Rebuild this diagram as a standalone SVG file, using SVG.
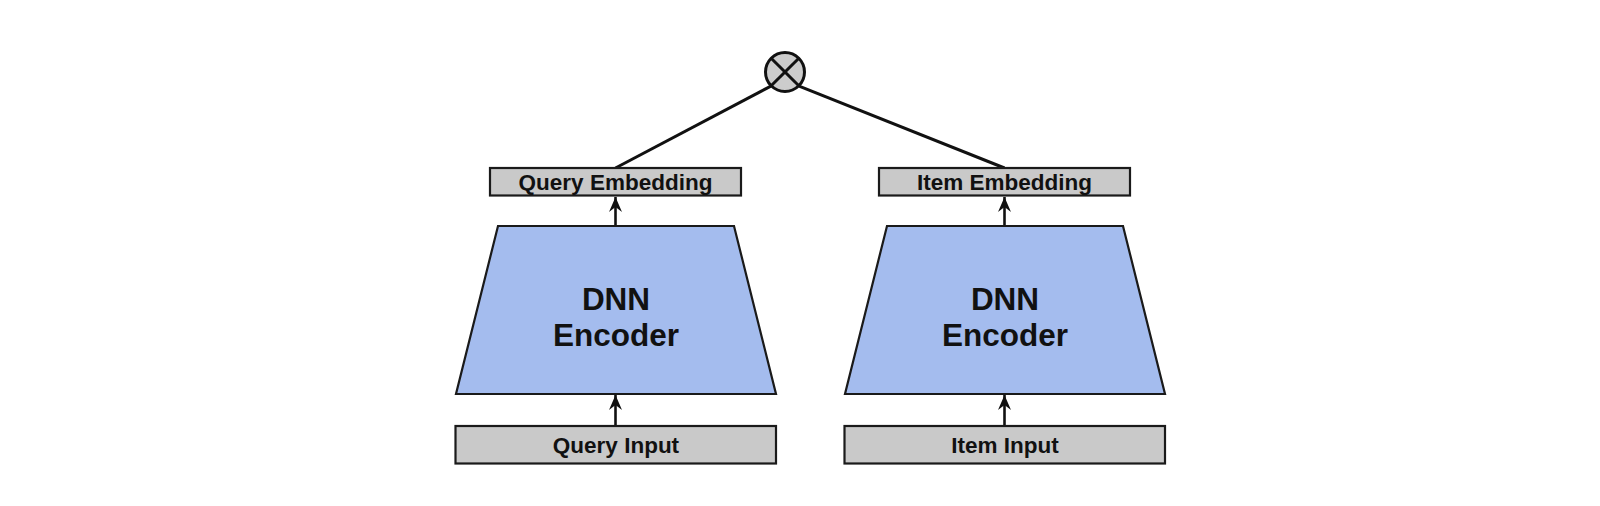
<svg xmlns="http://www.w3.org/2000/svg" width="1600" height="506" viewBox="0 0 1600 506">
<style>
.box{fill:#c9c9c9;stroke:#1a1a1a;stroke-width:2.2}
.trap{fill:#a4bcee;stroke:#1a1a1a;stroke-width:2.2;stroke-linejoin:miter}
.lbl{font-family:"Liberation Sans",Arial,sans-serif;font-weight:bold;font-size:22.5px;fill:#111;text-anchor:middle}
.big{font-family:"Liberation Sans",Arial,sans-serif;font-weight:bold;font-size:31.5px;fill:#111;text-anchor:middle}
.conn{stroke:#111;stroke-width:3;fill:none}
.arr{stroke:#111;stroke-width:2.6;fill:none}
</style>
<defs>
<marker id="ah" viewBox="-16 -7 17 14" refX="0" refY="0" markerWidth="17" markerHeight="14" markerUnits="userSpaceOnUse" orient="auto">
<path d="M0,0 L-15,-6.5 L-10,0 L-15,6.5 Z" fill="#111"/>
</marker>
</defs>
<rect width="1600" height="506" fill="#ffffff"/>
<g id="connectors">
<line class="conn" x1="770.9" y1="86.1" x2="615.5" y2="168"/>
<line class="conn" x1="799.1" y1="86.1" x2="1004.5" y2="168"/>
<line class="arr" x1="615.5" y1="225" x2="615.5" y2="197" marker-end="url(#ah)"/>
<line class="arr" x1="1004.5" y1="225" x2="1004.5" y2="197" marker-end="url(#ah)"/>
<line class="arr" x1="615.5" y1="425" x2="615.5" y2="395" marker-end="url(#ah)"/>
<line class="arr" x1="1004.5" y1="425" x2="1004.5" y2="395" marker-end="url(#ah)"/>
</g>
<g id="product">
<circle cx="785" cy="72" r="19.5" fill="#cccccc" stroke="#111" stroke-width="3"/>
<line x1="771.2" y1="58.2" x2="798.8" y2="85.8" stroke="#111" stroke-width="3"/>
<line x1="798.8" y1="58.2" x2="771.2" y2="85.8" stroke="#111" stroke-width="3"/>
</g>
<g id="query-embedding">
<rect class="box" x="490" y="168" width="251" height="27.5"/>
<text class="lbl" x="615.5" y="190">Query Embedding</text>
</g>
<g id="item-embedding">
<rect class="box" x="879" y="168" width="251" height="27.5"/>
<text class="lbl" x="1004.5" y="190">Item Embedding</text>
</g>
<g id="query-encoder">
<polygon class="trap" points="498,226 734,226 776,394 456,394"/>
<text class="big" x="616" y="310">DNN</text>
<text class="big" x="616" y="346">Encoder</text>
</g>
<g id="item-encoder">
<polygon class="trap" points="887,226 1123,226 1165,394 845,394"/>
<text class="big" x="1005" y="310">DNN</text>
<text class="big" x="1005" y="346">Encoder</text>
</g>
<g id="query-input">
<rect class="box" x="455.5" y="426" width="320.5" height="37.5"/>
<text class="lbl" x="616" y="453">Query Input</text>
</g>
<g id="item-input">
<rect class="box" x="844.5" y="426" width="320.5" height="37.5"/>
<text class="lbl" x="1005" y="453">Item Input</text>
</g>
</svg>
